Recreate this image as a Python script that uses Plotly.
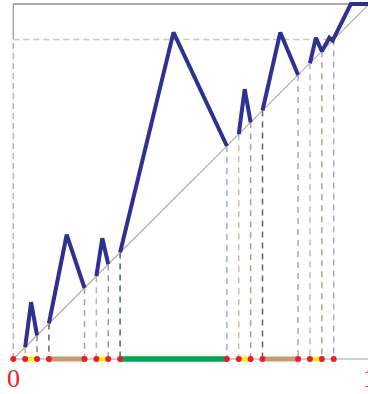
import plotly.graph_objects as go

# Endpoints of the removed intervals on [0, 0.9]
cut_points = [0.0, 0.0333, 0.0667, 0.1, 0.2, 0.2333, 0.2667, 0.3,
              0.6, 0.6333, 0.6667, 0.7, 0.8, 0.8333, 0.8667, 0.9]

# Removed intervals and their level colours
gap_starts = [0.0333, 0.1, 0.2333, 0.3, 0.6333, 0.7, 0.8333]
gap_ends = [0.0667, 0.2, 0.2667, 0.6, 0.6667, 0.8, 0.8667]
gap_colors = ["#fff200", "#c69c6d", "#fff200", "#00a651",
              "#fff200", "#c69c6d", "#fff200"]
gap_widths = [4.5, 5, 4.5, 5.5, 4.5, 5, 4.5]

# Drop-line colours for each cut point (x = 0 excluded)
drop_colors = ["#c4bd8f", "#8f8567", "#6f6250", "#aaa4a4", "#bdb893",
               "#a59d7b", "#3f6e4c", "#9fb2ab", "#c7c3a6", "#aaa384",
               "#6c5e46", "#aba7a4", "#c4c0a4", "#aba48d", "#aaaaaa"]

# Blue curve pieces: x and y values
curve_x = [
    [0.0333, 0.05, 0.0667],
    [0.1, 0.15, 0.2],
    [0.2333, 0.25, 0.2667],
    [0.3, 0.45, 0.6],
    [0.6333, 0.65, 0.6667],
    [0.7, 0.75, 0.8],
    [0.8333, 0.85, 0.8667, 0.888, 0.897, 0.948, 1.05],
]
curve_y = [
    [0.0333, 0.16, 0.0667],
    [0.1, 0.35, 0.2],
    [0.2333, 0.34, 0.2667],
    [0.3, 0.92, 0.6],
    [0.6333, 0.76, 0.6667],
    [0.7, 0.92, 0.8],
    [0.8333, 0.905, 0.8667, 0.905, 0.897, 1.0, 1.0],
]

level = 0.9
tick_labels = ["0", "1"]
tick_pos = [0.0, 1.0]

fig = go.Figure()

def seg(x, y, color, width, dash="solid"):
    fig.add_trace(go.Scatter(x=x, y=y, mode="lines",
                             line=dict(color=color, width=width, dash=dash),
                             hoverinfo="skip", showlegend=False))

# frame: top edge, short solid left edge above the level line
seg([0, 1.05], [1, 1], "#8e8e8e", 1.3)
seg([0, 0], [level, 1], "#9a9a9a", 1.3)
# dashed level line and dashed left edge below it
seg([0, level], [level, level], "#c8c8c8", 1.5, "6px,4px")
seg([0, 0], [0, level], "#b4b4b4", 1.5, "6px,4px")

# drop lines from the diagonal to the axis
for x, c in zip(cut_points[1:], drop_colors):
    seg([x, x], [x, 0], c, 1.5, "6px,5px")

# bottom axis and diagonal
seg([0, 1.05], [0, 0], "#a0a0a0", 1.2)
seg([0, 1.05], [0, 1.05], "#ababab", 1.1)

# blue curve
for xs, ys in zip(curve_x, curve_y):
    seg(xs, ys, "#2e3192", 4)

# removed intervals on the axis
for a, b, c, w in zip(gap_starts, gap_ends, gap_colors, gap_widths):
    seg([a, b], [0, 0], c, w)

# cut points
fig.add_trace(go.Scatter(x=cut_points, y=[0] * len(cut_points), mode="markers",
                         marker=dict(color="#ed1c24", size=6, line=dict(width=0)),
                         hoverinfo="skip", showlegend=False))

x0 = -13.3 / 356
x1 = (368 - 13.3) / 356
y1 = 359 / 355
y0 = -35 / 355

# end labels placed in paper units so the "1" may sit past the plot edge
for t, p in zip(tick_labels, tick_pos):
    fig.add_annotation(x=(p - x0) / (x1 - x0), y=(-0.054 - y0) / (y1 - y0),
                       text=t, showarrow=False,
                       xref="paper", yref="paper", xanchor="center", yanchor="middle",
                       font=dict(family="Liberation Serif", size=26, color="#ed1c24"))

fig.update_layout(
    width=368, height=394,
    margin=dict(l=0, r=0, t=0, b=0, pad=0),
    paper_bgcolor="white", plot_bgcolor="white",
    xaxis=dict(range=[x0, x1], visible=False, fixedrange=True),
    yaxis=dict(range=[y0, y1], visible=False, fixedrange=True),
)

fig.write_html("out.html", config={"displayModeBar": False})
